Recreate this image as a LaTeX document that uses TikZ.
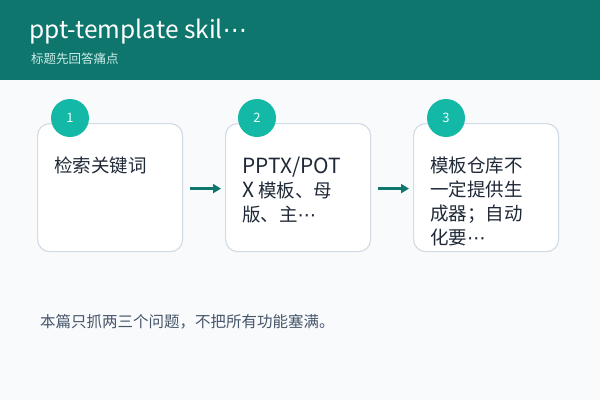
\documentclass[tikz,border=0pt]{standalone}
\usepackage{fontspec}
\setmainfont{Noto Sans CJK SC}
\newfontfamily\lat{Noto Sans CJK SC}[Scale=1.13]
\newfontfamily\dv{DejaVu Sans}
\newcommand{\mdots}{{\dv ⋯}}
\usetikzlibrary{arrows.meta}
\definecolor{bg}{HTML}{F8FAFC}
\definecolor{head}{HTML}{0F766E}
\definecolor{subt}{HTML}{CCEDE8}
\definecolor{cardline}{HTML}{D3DCE6}
\definecolor{badge}{HTML}{14B8A6}
\definecolor{badgetext}{HTML}{E6FFFA}
\definecolor{ink}{HTML}{1F2937}
\definecolor{note}{HTML}{475569}
\tikzset{
  card/.style={draw=cardline, line width=1.2pt, fill=white, rounded corners=12pt,
    minimum width=145pt, minimum height=128pt, inner sep=0pt},
  badgec/.style={circle, fill=badge, minimum size=38pt, inner sep=0pt,
    text=badgetext, font=\fontsize{13}{15}\selectfont},
  cardtext/.style={anchor=north west, align=left, inner sep=0pt, text=ink,
    font=\fontsize{18.5}{24}\selectfont},
  flow/.style={draw=head, line width=2.6pt, -{Triangle[length=8pt,width=9pt]}},
}
\begin{document}
\begin{tikzpicture}[x=1pt,y=-1pt]
\useasboundingbox (0,0) rectangle (600,400);
\fill[bg] (0,0) rectangle (600,400);
\fill[head] (0,0) rectangle (600,80);
\node[anchor=base west, inner sep=0pt, text=white, font=\fontsize{24.5}{28}\selectfont] (title) at (29,38) {ppt-template skil\mdots};
\node[anchor=west, inner sep=0pt, text=subt, font=\fontsize{12.5}{15}\selectfont] (sub) at (31,59) {标题先回答痛点};
\node[card, anchor=north west] (c1) at (37,123) {};
\node[card, anchor=north west] (c2) at (225,123) {};
\node[card, anchor=north west] (c3) at (413,123) {};
\node[badgec] (b1) at (70,118) {1};
\node[badgec] (b2) at (257,118) {2};
\node[badgec] (b3) at (446,118) {3};
\node[cardtext] (t1) at (54,157) {检索关键词};
\node[cardtext] (t2) at (242,157) {{\lat PPTX/POT}\\{\lat X} 模板、母\\版、主\mdots};
\node[cardtext] (t3) at (430,157) {模板仓库不\\一定提供生\\成器；自动\\化要\mdots};
\draw[flow] ([xshift=7pt,yshift=-1pt]c1.east) -- ([xshift=-4pt,yshift=-1pt]c2.west);
\draw[flow] ([xshift=7pt,yshift=-1pt]c2.east) -- ([xshift=-4pt,yshift=-1pt]c3.west);
\node[anchor=west, inner sep=0pt, text=note, font=\fontsize{15.5}{18}\selectfont] (foot) at (40,322) {本篇只抓两三个问题，不把所有功能塞满。};
\end{tikzpicture}
\end{document}
